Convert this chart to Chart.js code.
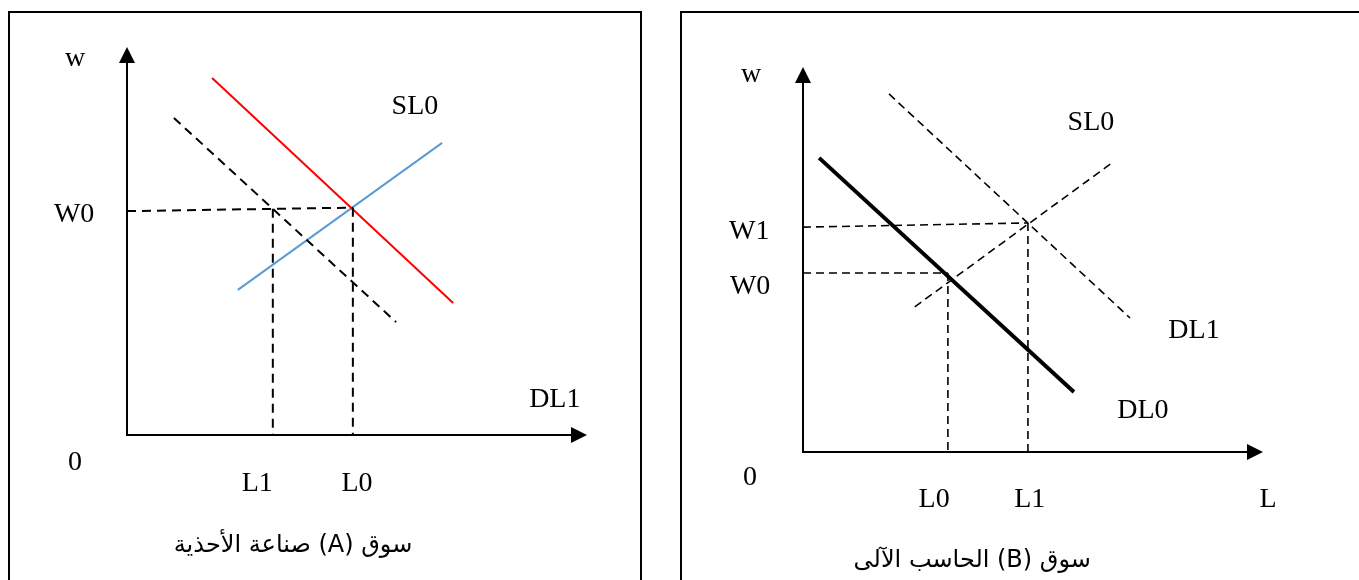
<!DOCTYPE html>
<html lang="ar">
<head>
<meta charset="UTF-8">
<title>سوق العمل</title>
<script src="https://cdn.jsdelivr.net/npm/chart.js"></script>
<style>
  html, body { margin: 0; padding: 0; background: #fff; overflow: hidden; }
  .panel { position: absolute; top: 11px; height: 640px; border: 2px solid #000; border-bottom: none; box-sizing: border-box; }
  #boxA { left: 8px; width: 634px; }
  #boxB { left: 680px; width: 720px; }
  canvas { position: absolute; top: 0; }
  #chartA { left: 0; }
  #chartB { left: 670px; }
</style>
</head>
<body>
<div class="panel" id="boxA"></div>
<div class="panel" id="boxB"></div>
<canvas id="chartA" width="660" height="580"></canvas>
<canvas id="chartB" width="689" height="580"></canvas>

<script>
// both panels use 0..100 on each axis (origin to arrow tip)

// panel A : shoe industry market
const aDemand0 = [{x: 18.5, y: 92.0}, {x: 70.9, y: 34.0}];   // red
const aSupply0 = [{x: 24.1, y: 37.4}, {x: 68.5, y: 75.3}];   // blue, SL0
const aDemand1 = [{x: 10.2, y: 81.7}, {x: 58.5, y: 29.1}];   // dashed, DL1
const aW0 = [{x: 0, y: 57.7}, {x: 49.1, y: 58.6}];
const aL1 = [{x: 31.7, y: 58.3}, {x: 31.7, y: 0}];
const aL0 = [{x: 49.1, y: 58.6}, {x: 49.1, y: 0}];
const aText = ['w', 'W0', '0', 'L1', 'L0', 'SL0', 'DL1'];
const aTextX = [-11.3, -11.5, -11.3, 28.3, 50.0, 62.6, 93.0];
const aTextY = [95.1, 54.9, -9.0, -14.4, -14.4, 82.7, 7.2];
const aTitle = 'سوق (A) صناعة الأحذية';

// panel B : computer market
const bDemand0 = [{x: 3.5, y: 76.4}, {x: 58.9, y: 15.6}];    // thick, DL0
const bDemand1 = [{x: 18.7, y: 93.0}, {x: 71.1, y: 34.8}];   // dashed, DL1
const bSupply0 = [{x: 24.3, y: 37.7}, {x: 67.4, y: 75.3}];   // dashed, SL0
const bW1 = [{x: 0, y: 58.4}, {x: 48.9, y: 59.5}];
const bW0 = [{x: 0, y: 46.5}, {x: 31.5, y: 46.5}];
const bL0 = [{x: 31.5, y: 46.5}, {x: 31.5, y: 0}];
const bL1 = [{x: 48.9, y: 59.5}, {x: 48.9, y: 0}];
const bText = ['w', 'W1', 'W0', '0', 'L0', 'L1', 'L', 'SL0', 'DL1', 'DL0'];
const bTextX = [-11.3, -11.7, -11.5, -11.5, 28.5, 49.3, 101.1, 62.6, 85.0, 73.9];
const bTextY = [96.1, 55.3, 41.0, -8.6, -14.3, -14.3, -14.3, 83.6, 29.6, 8.8];
const bTitle = 'سوق (B) الحاسب الآلى';

const serif = '"Liberation Serif", "Times New Roman", serif';

// axes with arrowheads + the free text of the figure
const figure = {
  id: 'figure',
  beforeDatasetsDraw(chart) {
    const {ctx, scales: {x, y}} = chart;
    const x0 = x.getPixelForValue(0), y0 = y.getPixelForValue(0);
    const xm = x.getPixelForValue(100), ym = y.getPixelForValue(100);
    ctx.save();
    ctx.strokeStyle = '#000';
    ctx.fillStyle = '#000';
    ctx.lineWidth = 2;
    ctx.beginPath();
    ctx.moveTo(x0, y0 + 1);
    ctx.lineTo(x0, ym + 12);
    ctx.moveTo(x0 - 1, y0);
    ctx.lineTo(xm - 12, y0);
    ctx.stroke();
    ctx.beginPath();
    ctx.moveTo(x0, ym);
    ctx.lineTo(x0 - 8, ym + 16);
    ctx.lineTo(x0 + 8, ym + 16);
    ctx.fill();
    ctx.beginPath();
    ctx.moveTo(xm, y0);
    ctx.lineTo(xm - 16, y0 - 8);
    ctx.lineTo(xm - 16, y0 + 8);
    ctx.fill();
    ctx.restore();
  },
  afterDatasetsDraw(chart, args, opts) {
    const {ctx, scales: {x, y}} = chart;
    ctx.save();
    ctx.fillStyle = '#000';
    ctx.textAlign = 'center';
    ctx.textBaseline = 'alphabetic';
    ctx.font = '28px ' + serif;
    opts.text.forEach((t, i) => {
      ctx.fillText(t, x.getPixelForValue(opts.tx[i]), y.getPixelForValue(opts.ty[i]));
    });
    ctx.font = '24px "DejaVu Sans", sans-serif';
    ctx.direction = 'rtl';
    ctx.fillText(opts.title, x.getPixelForValue(opts.titleX), y.getPixelForValue(opts.titleY));
    ctx.restore();
  }
};

function line(data, color, width, dash) {
  return {
    data: data,
    showLine: true,
    borderColor: color,
    borderWidth: width,
    borderDash: dash || [],
    pointRadius: 0,
    fill: false
  };
}

function makeChart(id, datasets, pad, figOpts) {
  return new Chart(document.getElementById(id), {
    type: 'scatter',
    data: { datasets: datasets },
    options: {
      responsive: false,
      animation: false,
      events: [],
      layout: { padding: pad },
      scales: {
        x: { type: 'linear', min: 0, max: 100, display: false },
        y: { type: 'linear', min: 0, max: 100, display: false }
      },
      plugins: {
        legend: { display: false },
        tooltip: { enabled: false },
        figure: figOpts
      }
    },
    plugins: [figure]
  });
}

const dashA = [9, 6];
const dashB = [8, 5];

makeChart('chartA', [
  line(aW0, '#000', 2, dashA),
  line(aL1, '#000', 2, dashA),
  line(aL0, '#000', 2, dashA),
  line(aDemand1, '#000', 2, dashA),
  line(aDemand0, '#ff0000', 2),
  line(aSupply0, '#5b9bd5', 2)
], { left: 127, right: 73, top: 47, bottom: 145 },
  { text: aText, tx: aTextX, ty: aTextY, title: aTitle, titleX: 36.1, titleY: -30.2 });

makeChart('chartB', [
  line(bW1, '#000', 1.6, dashB),
  line(bW0, '#000', 1.6, dashB),
  line(bL0, '#000', 1.6, dashB),
  line(bL1, '#000', 1.6, dashB),
  line(bDemand1, '#000', 1.6, dashB),
  line(bSupply0, '#000', 1.6, dashB),
  line(bDemand0, '#000', 4)
], { left: 133, right: 96, top: 67, bottom: 128 },
  { text: bText, tx: bTextX, ty: bTextY, title: bTitle, titleX: 36.8, titleY: -29.9 });
</script>
</body>
</html>
